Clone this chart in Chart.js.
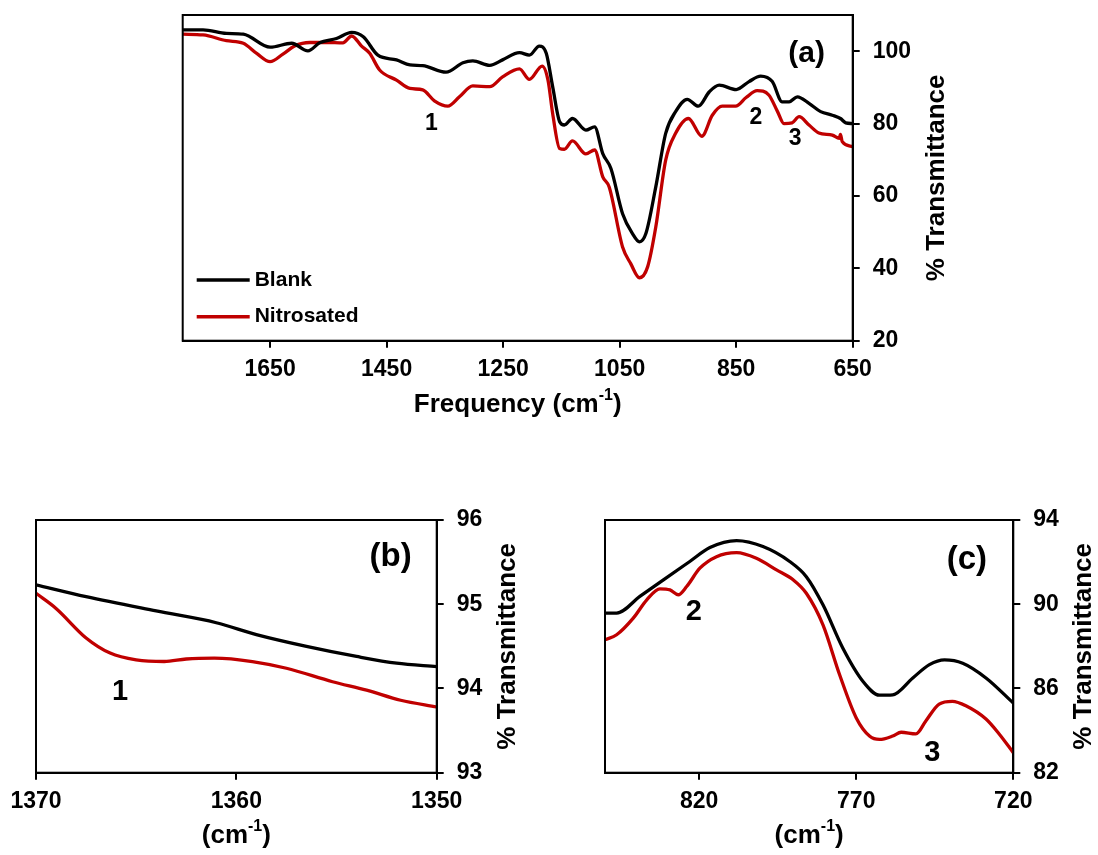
<!DOCTYPE html>
<html lang="en">
<head>
<meta charset="UTF-8">
<title>FTIR spectra - Blank vs Nitrosated</title>
<style>
  body { margin: 0; background: #fff; }
  .wrap { position: relative; width: 1098px; height: 855px; }
  canvas { position: absolute; }
  #chartA { left: 0; top: 0; }
  #chartB { left: 0; top: 480px; }
  #chartC { left: 549px; top: 480px; }
</style>
</head>
<body>
<div class="wrap">
  <canvas id="chartA" width="1098" height="430"></canvas>
  <canvas id="chartB" width="549" height="375"></canvas>
  <canvas id="chartC" width="549" height="375"></canvas>
</div>

<script src="https://cdn.jsdelivr.net/npm/chart.js@4.4.0/dist/chart.umd.min.js"></script>
<script>
// ---- full spectrum (a) ----
var blankA_x = [1800, 1765, 1725, 1696, 1650, 1613, 1585, 1565, 1536, 1510, 1490, 1465, 1433, 1410, 1388,
    1348, 1319, 1302, 1273, 1251, 1222, 1205, 1188, 1176, 1165, 1153, 1145, 1131, 1108, 1093, 1079, 1065,
    1045, 1028, 1016, 1005, 988, 971, 954, 934, 915, 896, 879, 850, 828, 808, 788, 771, 759, 745, 725,
    705, 685, 671, 662, 650];
var blankA_y = [105.9, 105.9, 104.9, 104.7, 101.1, 102.2, 100.1, 102.3, 103.5, 105.2, 104, 98.9, 97.6, 96.2, 96,
    94.2, 96.8, 97.3, 96.1, 97.6, 99.6, 98.9, 101.4, 99.4, 90.2, 80.5, 79.6, 81.4, 78.2, 79.1, 71.7, 67.6,
    55.1, 49.6, 47.3, 49.6, 62.5, 77.3, 83.3, 86.7, 84.8, 88.8, 90.6, 89.4, 91.6, 93.1, 91.6, 86, 86, 87.4, 85.6,
    83.3, 82.3, 81.4, 80.2, 80];
var nitroA_x = [1800, 1765, 1725, 1696, 1673, 1650, 1628, 1608, 1582, 1553, 1525, 1510, 1493, 1479, 1462,
    1433, 1410, 1388, 1368, 1345, 1325, 1302, 1273, 1251, 1222, 1205, 1183, 1173, 1165, 1153, 1145, 1131,
    1108, 1093, 1079, 1068, 1045, 1031, 1016, 1002, 988, 971, 954, 932, 909, 891, 874, 851, 833, 814, 794,
    779, 768, 754, 742, 725, 708, 685, 673, 671, 668, 650];
var nitroA_y = [104.7, 104.5, 102.9, 102.2, 99.4, 97.1, 99.2, 101.4, 102.4, 102.4, 102.3, 104.2, 101.4, 99.4, 94.8,
    92, 89.7, 89.3, 86.3, 84.8, 87.4, 90.4, 90.2, 92.9, 95.1, 92.2, 95.9, 92, 82.8, 73.1, 72.9, 75.2,
    71.6, 72.7, 65.3, 62.5, 45.9, 41.3, 37.4, 40.4, 51.4, 69.9, 77.3, 81.4, 76.5, 82.3, 84.8, 84.8, 87.2, 89.1, 87.9,
    83.3, 80, 80.2, 81.9, 79.6, 77.4, 76.8, 75.9, 77, 75, 73.6];
var ticksA_x = [1650, 1450, 1250, 1050, 850, 650];
var ticksA_y = [20, 40, 60, 80, 100];

// ---- band 1 region (b) ----
var blankB_x = [1370, 1367.5, 1364, 1361, 1359, 1356.5, 1354, 1352, 1350];
var blankB_y = [95.23, 95.09, 94.92, 94.78, 94.64, 94.5, 94.38, 94.3, 94.26];
var nitroB_x = [1370, 1369, 1367.5, 1366.3, 1365, 1363.6, 1362.5, 1361.1, 1359.2, 1357.5, 1355.2, 1353.5, 1351.8, 1350];
var nitroB_y = [95.13, 94.95, 94.6, 94.42, 94.34, 94.32, 94.35, 94.36, 94.32, 94.24, 94.08, 93.98, 93.86, 93.78];
var ticksB_x = [1370, 1360, 1350];
var ticksB_y = [93, 94, 95, 96];

// ---- bands 2 and 3 region (c) ----
var blankC_x = [850, 846.3, 838.9, 831.4, 823, 816.6, 808.1, 799.7, 791.2, 785.9, 780.6, 774.3, 767.9, 762.6,
    758.4, 752, 746.7, 741.9, 736.1, 728.7, 720];
var blankC_y = [89.58, 89.58, 90.37, 91.16, 92.03, 92.69, 93.02, 92.74, 92.03, 91.31, 89.97, 87.92, 86.34, 85.68,
    85.7, 86.5, 87.13, 87.36, 87.2, 86.5, 85.31];
var nitroC_x = [850, 846.3, 841, 836.7, 832.5, 829.3, 826.7, 824, 819.8, 814.5, 808.1, 801.8, 795.4, 790.1, 785.9,
    780.6, 775.3, 770, 765.7, 762.6, 758.4, 755.7, 751, 747.8, 743.6, 739.4, 735.1, 728.7, 724.5, 720];
var nitroC_y = [88.31, 88.55, 89.34, 90.21, 90.73, 90.68, 90.45, 90.84, 91.71, 92.26, 92.45, 92.18, 91.63, 91.16, 90.52,
    89.02, 86.65, 84.6, 83.73, 83.58, 83.74, 83.92, 83.84, 84.47, 85.26, 85.39, 85.18, 84.55, 83.84, 82.95];
var ticksC_x = [820, 770, 720];
var ticksC_y = [82, 86, 90, 94];

var FONT = '"Liberation Sans", Arial, sans-serif';
var RED = '#c00000';

Chart.defaults.font.family = FONT;
Chart.defaults.font.weight = 'bold';
Chart.defaults.color = '#000';

function pts(xs, ys) {
    return xs.map(function (x, i) { return { x: x, y: ys[i] }; });
}

// "(cm-1)" style title with a raised -1
function drawUnitTitle(ctx, prefix, cx, cy) {
    var big = 'bold 26px ' + FONT, small = 'bold 16px ' + FONT;
    var left = prefix + '(cm', sup = '-1', right = ')';
    ctx.font = big; var w1 = ctx.measureText(left).width, w3 = ctx.measureText(right).width;
    ctx.font = small; var w2 = ctx.measureText(sup).width;
    var x = cx - (w1 + w2 + w3) / 2;
    ctx.textAlign = 'left';
    ctx.textBaseline = 'middle';
    ctx.font = big; ctx.fillText(left, x, cy);
    ctx.font = small; ctx.fillText(sup, x + w1, cy - 9);
    ctx.font = big; ctx.fillText(right, x + w1 + w2, cy);
}

var panelText = {
    id: 'panelText',
    afterDraw: function (chart, args, o) {
        var ctx = chart.ctx, a = chart.chartArea, sx = chart.scales.x, sy = chart.scales.y;
        ctx.save();
        ctx.strokeStyle = '#000';
        ctx.lineWidth = 2;
        ctx.strokeRect(a.left, a.top, a.right - a.left, a.bottom - a.top);

        ctx.fillStyle = '#000';
        ctx.textAlign = 'center';
        ctx.textBaseline = 'middle';
        o.marks.forEach(function (m) {
            ctx.font = 'bold ' + m.size + 'px ' + FONT;
            ctx.fillText(m.text, sx.getPixelForValue(m.x), sy.getPixelForValue(m.y));
        });

        if (o.legend) {
            chart.data.datasets.forEach(function (ds, i) {
                var y = a.top + 265 + i * 36.7;
                ctx.strokeStyle = ds.borderColor;
                ctx.lineWidth = 3.5;
                ctx.beginPath();
                ctx.moveTo(a.left + 14, y);
                ctx.lineTo(a.left + 67, y);
                ctx.stroke();
                ctx.font = 'bold 21px ' + FONT;
                ctx.textAlign = 'left';
                ctx.fillText(ds.label, a.left + 72, y);
            });
        }

        drawUnitTitle(ctx, o.xTitle, (a.left + a.right) / 2, a.bottom + o.xTitleGap);

        ctx.translate(a.right + o.yTitleGap, (a.top + a.bottom) / 2);
        ctx.rotate(-Math.PI / 2);
        ctx.textAlign = 'center';
        ctx.font = 'bold 26px ' + FONT;
        ctx.fillText('% Transmittance', 0, 0);
        ctx.restore();
    }
};

function makeChart(id, c) {
    var axisGrid = { drawOnChartArea: false, drawTicks: true, tickLength: 7, lineWidth: 2, color: '#000' };
    var axisBorder = { display: true, width: 2, color: '#000' };
    var plain = function (v) { return String(v); };
    return new Chart(document.getElementById(id), {
        type: 'line',
        data: {
            datasets: [
                { label: 'Blank', data: pts(c.bx, c.by), borderColor: '#000' },
                { label: 'Nitrosated', data: pts(c.nx, c.ny), borderColor: RED }
            ]
        },
        options: {
            responsive: false,
            animation: false,
            devicePixelRatio: 1,
            layout: { padding: c.pad },
            elements: {
                line: { borderWidth: 3.3, cubicInterpolationMode: 'monotone' },
                point: { radius: 0 }
            },
            plugins: {
                legend: { display: false },
                tooltip: { enabled: false },
                panelText: { marks: c.marks, legend: c.legend, xTitle: c.xTitle,
                             xTitleGap: c.xTitleGap, yTitleGap: c.yTitleGap }
            },
            scales: {
                x: {
                    type: 'linear', reverse: true, min: c.xMin, max: c.xMax,
                    grid: axisGrid, border: axisBorder,
                    ticks: { font: { size: 23, weight: 'bold' }, padding: 8, maxRotation: 0, callback: plain },
                    afterBuildTicks: function (s) { s.ticks = c.xTicks.map(function (v) { return { value: v }; }); },
                    afterFit: function (s) { s.height = c.xHeight; s.paddingLeft = 0; s.paddingRight = 0; }
                },
                y: {
                    type: 'linear', position: 'right', min: c.yMin, max: c.yMax,
                    grid: axisGrid, border: axisBorder,
                    ticks: { font: { size: 23, weight: 'bold' }, padding: 13, callback: plain },
                    afterBuildTicks: function (s) { s.ticks = c.yTicks.map(function (v) { return { value: v }; }); },
                    afterFit: function (s) { s.width = c.yWidth; s.paddingTop = 0; s.paddingBottom = 0; }
                }
            }
        },
        plugins: [panelText]
    });
}

makeChart('chartA', {
    bx: blankA_x, by: blankA_y, nx: nitroA_x, ny: nitroA_y,
    xMin: 650, xMax: 1800, yMin: 20, yMax: 110, xTicks: ticksA_x, yTicks: ticksA_y,
    pad: { left: 182.7, top: 15, right: 0, bottom: 0 }, yWidth: 245.3, xHeight: 89.3,
    legend: true, xTitle: 'Frequency ', xTitleGap: 64, yTitleGap: 84,
    marks: [
        { text: '(a)', x: 729, y: 99.2, size: 30 },
        { text: '1', x: 1373, y: 80, size: 23 },
        { text: '2', x: 816, y: 81.5, size: 23 },
        { text: '3', x: 749, y: 75.9, size: 23 }
    ]
});

makeChart('chartB', {
    bx: blankB_x, by: blankB_y, nx: nitroB_x, ny: nitroB_y,
    xMin: 1350, xMax: 1370, yMin: 93, yMax: 96, xTicks: ticksB_x, yTicks: ticksB_y,
    pad: { left: 36, top: 40, right: 0, bottom: 0 }, yWidth: 112.3, xHeight: 82.3,
    legend: false, xTitle: '', xTitleGap: 63, yTitleGap: 71,
    marks: [
        { text: '(b)', x: 1352.3, y: 95.56, size: 33 },
        { text: '1', x: 1365.8, y: 93.96, size: 29 }
    ]
});

makeChart('chartC', {
    bx: blankC_x, by: blankC_y, nx: nitroC_x, ny: nitroC_y,
    xMin: 720, xMax: 850, yMin: 82, yMax: 94, xTicks: ticksC_x, yTicks: ticksC_y,
    pad: { left: 56, top: 40, right: 0, bottom: 0 }, yWidth: 84.7, xHeight: 82.3,
    legend: false, xTitle: '', xTitleGap: 63, yTitleGap: 71,
    marks: [
        { text: '(c)', x: 734.8, y: 92.1, size: 33 },
        { text: '2', x: 821.7, y: 89.62, size: 29 },
        { text: '3', x: 745.8, y: 82.92, size: 29 }
    ]
});
</script>
</body>
</html>
